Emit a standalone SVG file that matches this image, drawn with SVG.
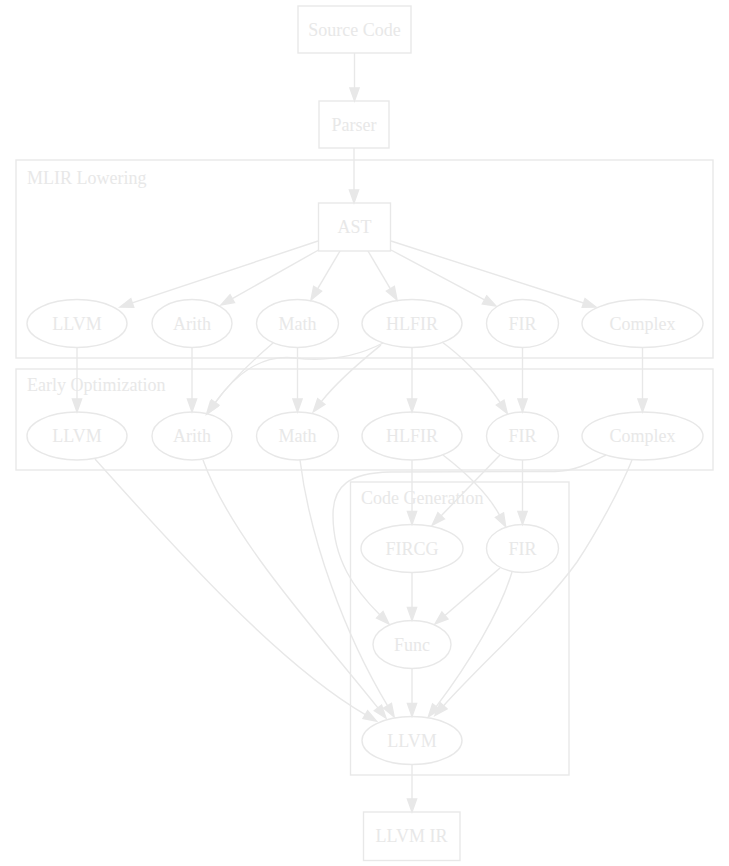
<svg xmlns="http://www.w3.org/2000/svg" width="729" height="866" viewBox="0 0 729 866">
<style>
.n{fill:none;stroke:#e8e8e8;stroke-width:1.4}
.c{fill:none;stroke:#e8e8e8;stroke-width:1.4}
.t{font-family:"Liberation Serif","Times New Roman",serif;font-size:18px;fill:#e8e8e8;text-anchor:middle}
.cl{font-family:"Liberation Serif","Times New Roman",serif;font-size:18px;fill:#e8e8e8}
.e{fill:none;stroke:#e8e8e8;stroke-width:1.4;marker-end:url(#ah)}
</style>
<defs>
<marker id="ah" markerUnits="userSpaceOnUse" markerWidth="18" markerHeight="14" viewBox="-2 -7 18 14" refX="0" refY="0" orient="auto" overflow="visible">
<path d="M0,-4.6 L13,0 L0,4.6 Z" fill="#e8e8e8" stroke="#e8e8e8" stroke-width="1.4"/>
</marker>
</defs>
<rect x="0" y="0" width="729" height="866" fill="#ffffff"/>
<g id="clusters">
<g id="cluster_mlir"><rect class="c" x="16" y="160" width="697" height="198"/><text class="cl" x="27" y="184">MLIR Lowering</text></g>
<g id="cluster_early"><rect class="c" x="16" y="369" width="697" height="101"/><text class="cl" x="27" y="391">Early Optimization</text></g>
<g id="cluster_codegen"><rect class="c" x="350.5" y="482" width="218.5" height="293"/><text class="cl" x="361" y="504">Code Generation</text></g>
</g>
<g id="edges">
<path class="e" d="M354.5,53 L354.5,88"/>
<path class="e" d="M354,148 L354,190"/>
<path class="e" d="M318,241 L132.3,302.9"/>
<path class="e" d="M318.5,250 L232.3,298.6"/>
<path class="e" d="M340,251 L317.6,288.8"/>
<path class="e" d="M368,251 L390.4,288.8"/>
<path class="e" d="M391,250 L484.5,299.9"/>
<path class="e" d="M391,241 L583.6,303"/>
<path class="e" d="M77,347.5 L77,399"/>
<path class="e" d="M192,347.5 L192,399"/>
<path class="e" d="M297.5,347.5 L297.5,399"/>
<path class="e" d="M412,347.5 L412,399"/>
<path class="e" d="M522.5,347.5 L522.5,399"/>
<path class="e" d="M642.5,347.5 L642.5,399"/>
<path class="e" d="M273,343 C252,361 231,381 214.2,403.8"/>
<path class="e" d="M383,343 C360,355 330,362 295,358 C260,354 235,375 215.3,402.6"/>
<path class="e" d="M381,345 C365,358 340,378 321.3,401.6"/>
<path class="e" d="M442,342 C460,355 484,378 500.2,402.6"/>
<path class="e" d="M95,459 C178,552 280,665 365.3,714.6"/>
<path class="e" d="M203,460 C232,540 320,635 377.9,707.9"/>
<path class="e" d="M300,460 C310,540 345,635 387.5,705.7"/>
<path class="e" d="M412,460 L412,511.5"/>
<path class="e" d="M443,455 C465,472 487,492 499.5,515.1"/>
<path class="e" d="M500,455 L441.2,515.8"/>
<path class="e" d="M522.5,460 L522.5,511.5"/>
<path class="e" d="M606,455 C590,463 575,471 555,471.5 L390,472 C350,473 333,485 333,515 C333,560 355,590 379.8,614.8"/>
<path class="e" d="M632,460 C620,490 595,535 577,562 C545,607 480,665 443.6,705.8"/>
<path class="e" d="M412,572.5 L412,607.5"/>
<path class="e" d="M500,568 L444.9,615.5"/>
<path class="e" d="M512,572 C500,612 468,665 436.2,706.6"/>
<path class="e" d="M412,668.5 L412,703.5"/>
<path class="e" d="M412,764.5 L412,799"/>
</g>
<g id="source_code"><rect class="n" x="298" y="6" width="113" height="47"/><text class="t" x="354.5" y="36">Source Code</text></g>
<g id="parser"><rect class="n" x="319" y="101" width="70" height="47"/><text class="t" x="354" y="131">Parser</text></g>
<g id="ast"><rect class="n" x="318.5" y="203" width="72" height="48"/><text class="t" x="354.5" y="233">AST</text></g>
<g id="ml_llvm"><ellipse class="n" cx="77" cy="323.5" rx="50" ry="24"/><text class="t" x="77" y="330">LLVM</text></g>
<g id="ml_arith"><ellipse class="n" cx="192" cy="323.5" rx="40" ry="24"/><text class="t" x="192" y="330">Arith</text></g>
<g id="ml_math"><ellipse class="n" cx="297.5" cy="323.5" rx="41" ry="24"/><text class="t" x="297.5" y="330">Math</text></g>
<g id="ml_hlfir"><ellipse class="n" cx="412" cy="323.5" rx="50" ry="24"/><text class="t" x="412" y="330">HLFIR</text></g>
<g id="ml_fir"><ellipse class="n" cx="522.5" cy="323.5" rx="36" ry="24"/><text class="t" x="522.5" y="330">FIR</text></g>
<g id="ml_complex"><ellipse class="n" cx="642.5" cy="323.5" rx="60.5" ry="24"/><text class="t" x="642.5" y="330">Complex</text></g>
<g id="eo_llvm"><ellipse class="n" cx="77" cy="436" rx="50" ry="24"/><text class="t" x="77" y="442">LLVM</text></g>
<g id="eo_arith"><ellipse class="n" cx="192" cy="436" rx="40" ry="24"/><text class="t" x="192" y="442">Arith</text></g>
<g id="eo_math"><ellipse class="n" cx="297.5" cy="436" rx="41" ry="24"/><text class="t" x="297.5" y="442">Math</text></g>
<g id="eo_hlfir"><ellipse class="n" cx="412" cy="436" rx="50" ry="24"/><text class="t" x="412" y="442">HLFIR</text></g>
<g id="eo_fir"><ellipse class="n" cx="522.5" cy="436" rx="36" ry="24"/><text class="t" x="522.5" y="442">FIR</text></g>
<g id="eo_complex"><ellipse class="n" cx="642.5" cy="436" rx="60.5" ry="24"/><text class="t" x="642.5" y="442">Complex</text></g>
<g id="cg_fircg"><ellipse class="n" cx="412" cy="548.5" rx="51" ry="24"/><text class="t" x="412" y="555">FIRCG</text></g>
<g id="cg_fir"><ellipse class="n" cx="522.5" cy="548.5" rx="36" ry="24"/><text class="t" x="522.5" y="555">FIR</text></g>
<g id="cg_func"><ellipse class="n" cx="412" cy="644.5" rx="39" ry="24"/><text class="t" x="412" y="651">Func</text></g>
<g id="cg_llvm"><ellipse class="n" cx="412" cy="740.5" rx="50" ry="24"/><text class="t" x="412" y="747">LLVM</text></g>
<g id="llvm_ir"><rect class="n" x="363.5" y="812" width="96.5" height="48.5"/><text class="t" x="411.5" y="842">LLVM IR</text></g>
</svg>
